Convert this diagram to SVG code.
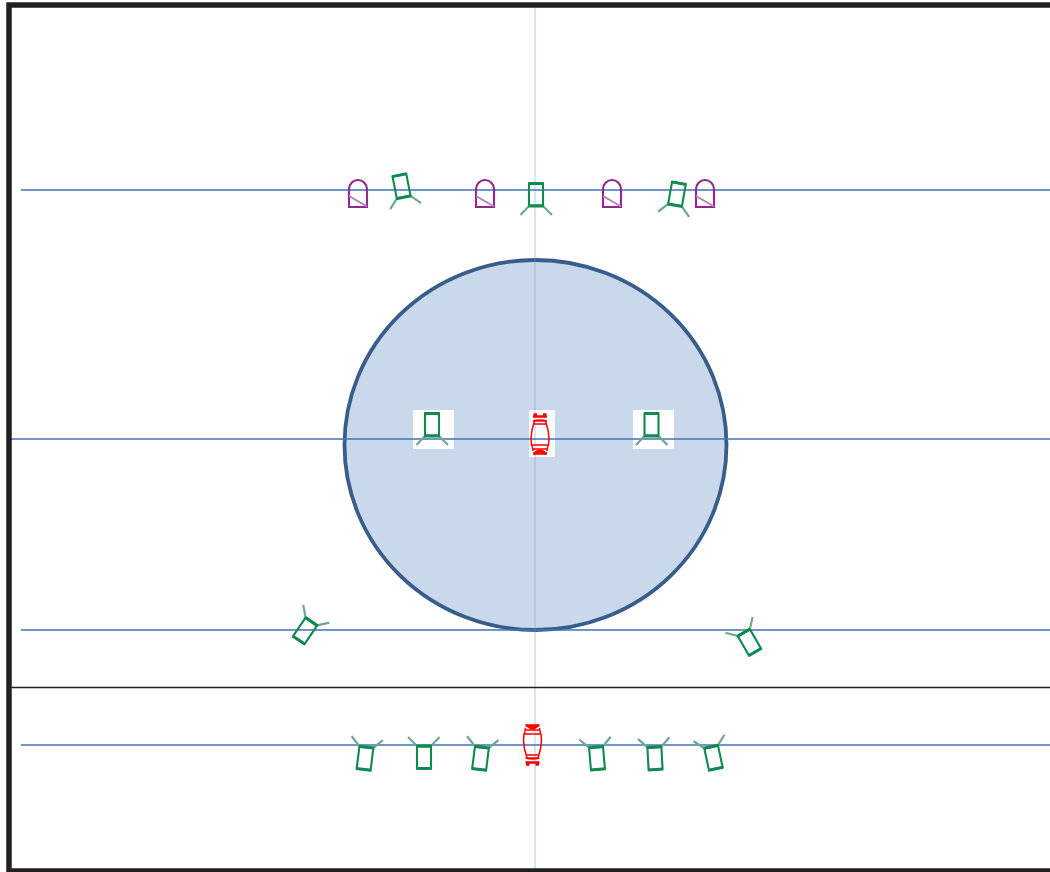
<svg xmlns="http://www.w3.org/2000/svg" width="1050" height="872" viewBox="0 0 1050 872">
<style>
.h{stroke:#4174b8;stroke-width:1.400;fill:none}
.leg{stroke:#6fa88a;stroke-width:2.200;fill:none}
.bd{stroke:#0f8a50;stroke-width:2.100;fill:none}
.th{stroke:#0f8a50;stroke-width:3;fill:none}
.dr{stroke:#93278f;stroke-width:2.100;fill:none}
.dg{stroke:#b583b3;stroke-width:2;fill:none}
.car{stroke:#f00;stroke-width:1.500;fill:none}
.carb{stroke:#f00;stroke-width:2.400;fill:none}
</style>
<defs>
<g id="seat">
<path class="leg" d="M-7 11.500L-15.500 20.500M7 11.500L16 20.500"/>
<rect class="bd" x="-7" y="-11" width="14" height="22"/>
<path class="th" d="M-7.500 -11H7.500M-7.500 11.500H7.500"/>
</g>
<g id="door">
<path class="dr" d="M-9 13.500V-4.500A9 9 0 0 1 9 -4.500V13.500Z"/>
<path class="dg" d="M-9 2.500L9 13"/>
</g>
<g id="car">
<path class="car" d="M-5.500 -13L-8 -4L-9 4L-8.500 11H8.500L9 4L8 -4L5.500 -13Z"/>
<path class="car" d="M-7 -13Q0 -15 7 -13M-6.500 -10H6.500M-7 15H7"/>
<path class="car" d="M-8 11L-7 17M8 11L7 17"/>
<path class="carb" d="M-6.500 -19.500H-3M3 -19.500H6.500M-7 -17.500H7M-7 19.500H7M-6.500 20.500Q0 13 6.500 20.500"/>
</g>
</defs>
<rect width="1050" height="872" fill="#fff"/>
<ellipse cx="535.500" cy="445" rx="191" ry="185" fill="#cad8ec" stroke="#385d8a" stroke-width="3.800"/>
<rect x="413" y="410" width="41" height="39" fill="#fff"/>
<rect x="529" y="410" width="26" height="47" fill="#fff"/>
<rect x="633" y="410" width="41" height="39" fill="#fff"/>
<g id="connectors">
<path d="M535 8V870" stroke="#6e9cc0" stroke-opacity=".45" stroke-width="1.200" fill="none"/>
<path class="h" d="M21 190H1050M10 439H1050M21 630H1050M21 745H1050"/>
<path d="M10 687.500H1050" stroke="#231f20" stroke-width="1.400" fill="none"/>
</g>
<g id="frame"><path d="M1050 5H9V871H1050" fill="none" stroke="#231f20" stroke-width="5.500"/></g>
<g id="door1"><use href="#door" x="358" y="193.500"/></g>
<g id="door2"><use href="#door" x="485" y="193.500"/></g>
<g id="door3"><use href="#door" x="612" y="193.500"/></g>
<g id="door4"><use href="#door" x="705" y="193.500"/></g>
<g id="seat-t1"><use href="#seat" transform="translate(401.500 186) rotate(-11)"/></g>
<g id="seat-t2"><use href="#seat" transform="translate(536 194.500)"/></g>
<g id="seat-t3"><use href="#seat" transform="translate(677 194) rotate(10)"/></g>
<g id="seat-m1"><use href="#seat" transform="translate(432 424.500)"/></g>
<g id="seat-m2"><use href="#seat" transform="translate(651.500 424.500)"/></g>
<g id="car-m"><use href="#car" transform="translate(540 434)"/></g>
<g id="seat-d1"><use href="#seat" transform="translate(305 631) rotate(214)"/></g>
<g id="seat-d2"><use href="#seat" transform="translate(749.500 642.500) rotate(150)"/></g>
<g id="seat-b1"><use href="#seat" transform="translate(365 758.500) rotate(187)"/></g>
<g id="seat-b2"><use href="#seat" transform="translate(424 757.500) rotate(180)"/></g>
<g id="seat-b3"><use href="#seat" transform="translate(480.500 758.500) rotate(187)"/></g>
<g id="car-b"><use href="#car" transform="translate(532.500 745) rotate(180)"/></g>
<g id="seat-b4"><use href="#seat" transform="translate(597 758.500) rotate(175)"/></g>
<g id="seat-b5"><use href="#seat" transform="translate(655 758.500) rotate(177)"/></g>
<g id="seat-b6"><use href="#seat" transform="translate(713.500 758) rotate(168)"/></g>
</svg>
